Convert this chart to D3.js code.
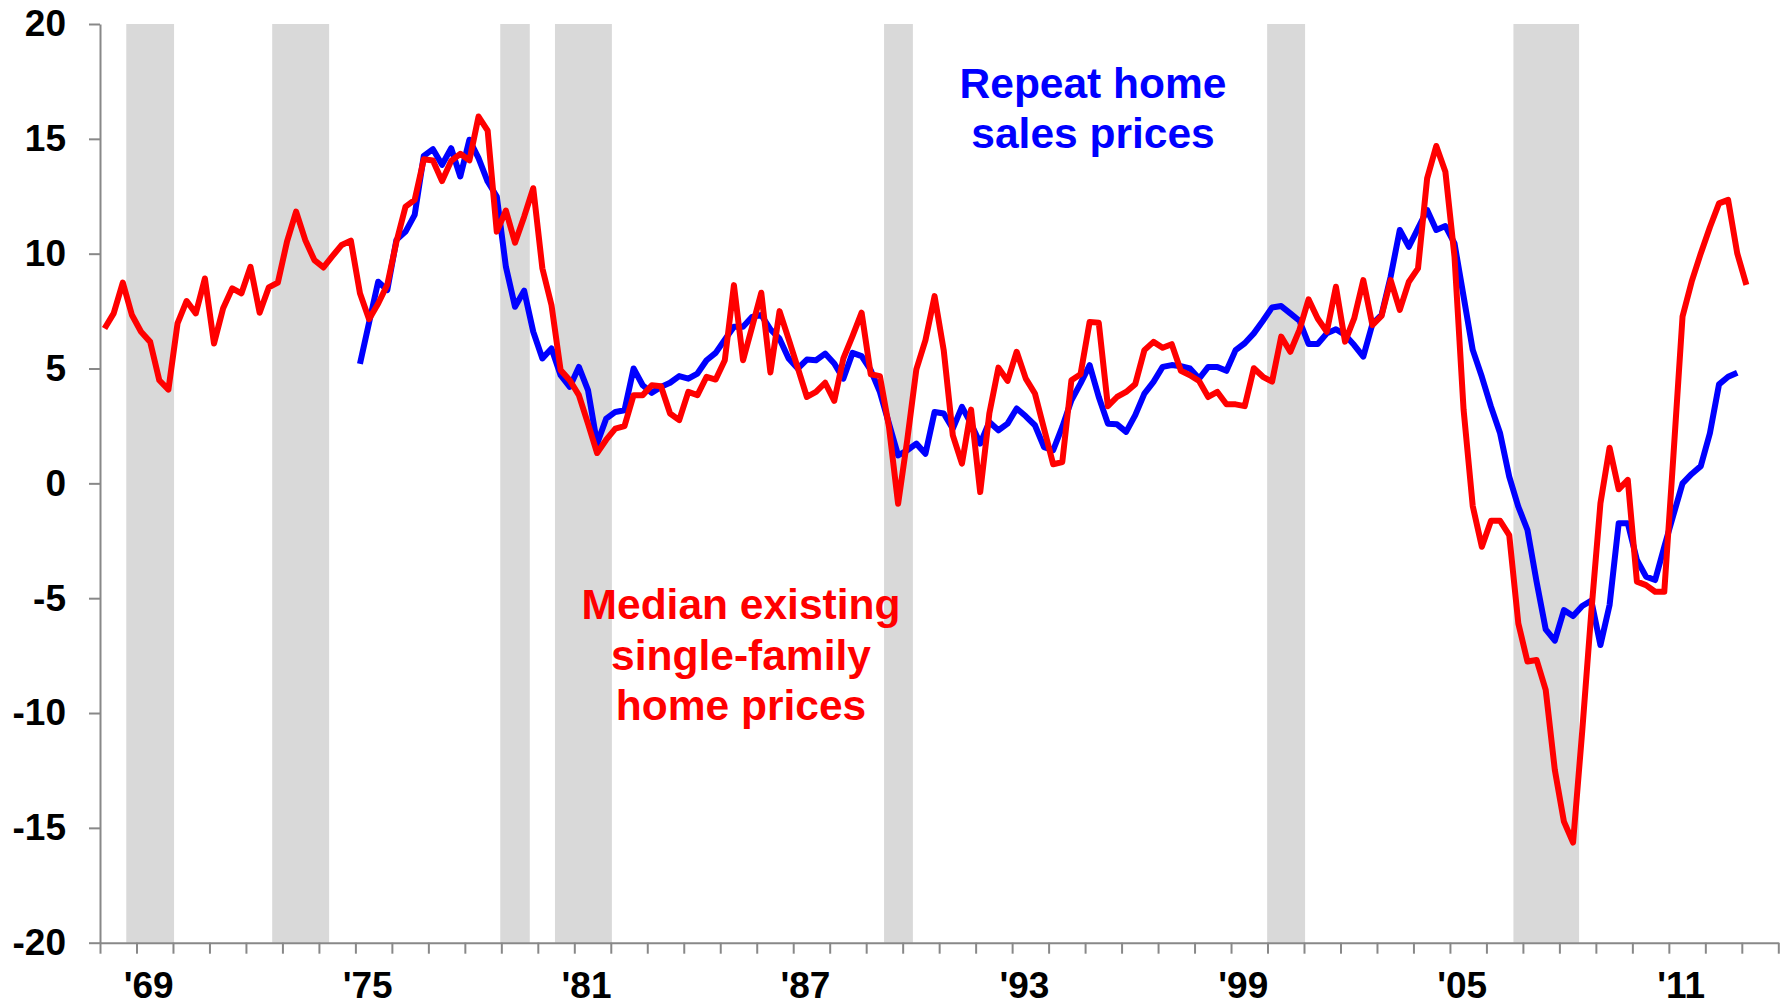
<!DOCTYPE html>
<html>
<head>
<meta charset="utf-8">
<script src="https://cdn.jsdelivr.net/npm/d3@7"></script>
<style>
  body { margin: 0; background: #fff; }
  svg { display: block; font-family: "Liberation Sans", Arial, sans-serif; font-weight: bold; }
</style>
</head>
<body>
<svg width="1780" height="1005"></svg>
<script>

// dados trimestrais, variacao anual em %
const inicio_mediana = 1968; // 1o trimestre de 1968
const mediana_existentes = [
    6.74, 7.40, 8.74, 7.33, 6.60, 6.16, 4.49, 4.08,
    6.96, 7.94, 7.40, 8.92, 6.09, 7.62, 8.49, 8.27,
    9.43, 7.43, 8.53, 8.74, 10.52, 11.83, 10.60, 9.72,
    9.40, 9.90, 10.38, 10.57, 8.28, 7.15, 7.83, 8.65,
    10.52, 12.05, 12.34, 14.11, 14.06, 13.16, 14.04, 14.35,
    14.06, 15.97, 15.36, 10.96, 11.88, 10.48, 11.61, 12.85,
    9.36, 7.76, 4.93, 4.49, 3.84, 2.60, 1.32, 1.90,
    2.38, 2.49, 3.84, 3.84, 4.27, 4.23, 3.04, 2.75,
    3.98, 3.84, 4.64, 4.52, 5.36, 8.63, 5.36, 6.82,
    8.30, 4.83, 7.50, 6.28, 5.03, 3.76, 3.98, 4.38,
    3.59, 5.44, 6.41, 7.43, 4.75, 4.67, 2.46, -0.89,
    1.88, 4.96, 6.24, 8.15, 5.80, 2.09, 0.86, 3.21,
    -0.38, 3.04, 5.04, 4.46, 5.73, 4.56, 3.91, 2.38,
    0.83, 0.93, 4.49, 4.75, 7.03, 6.99, 3.36, 3.76,
    3.98, 4.32, 5.80, 6.16, 5.90, 6.06, 4.90, 4.71,
    4.46, 3.76, 3.98, 3.44, 3.44, 3.36, 5.01, 4.64,
    4.43, 6.39, 5.73, 6.68, 8.01, 7.18, 6.60, 8.56,
    6.17, 7.18, 8.85, 6.89, 7.29, 8.85, 7.55, 8.78,
    9.36, 13.28, 14.69, 13.57, 9.87, 3.19, -0.99, -2.76,
    -1.63, -1.63, -2.25, -6.10, -7.76, -7.69, -8.99, -12.48,
    -14.73, -15.64, -10.8, -5.6, -0.87, 1.55, -0.26, 0.15,
    -4.28, -4.43, -4.72, -4.72, 1.2, 7.26, 8.78, 10.01,
    11.15, 12.19, 12.34, 10.01, 8.64
];

const inicio_repetidas = 1975; // 1o trimestre de 1975
const vendas_repetidas = [
    5.2, 7.0, 8.78, 8.42, 10.6, 10.96, 11.69, 14.26,
    14.55, 13.87, 14.59, 13.36, 14.96, 14.16, 13.14, 12.49,
    9.43, 7.69, 8.39, 6.60, 5.44, 5.87, 4.71, 4.20,
    5.07, 4.06, 1.73, 2.82, 3.11, 3.18, 5.0, 4.27,
    3.94, 4.20, 4.38, 4.67, 4.56, 4.78, 5.36, 5.68,
    6.26, 6.82, 6.82, 7.25, 7.33, 6.70, 6.30, 5.44,
    5.0, 5.39, 5.36, 5.65, 5.22, 4.56, 5.68, 5.54,
    4.93, 3.98, 2.60, 1.22, 1.44, 1.73, 1.29, 3.11,
    3.04, 2.38, 3.33, 2.60, 1.73, 2.67, 2.31, 2.60,
    3.26, 2.92, 2.53, 1.58, 1.44, 2.46, 3.62, 4.35,
    5.15, 3.76, 2.60, 2.57, 2.24, 2.97, 3.91, 4.42,
    5.07, 5.15, 5.10, 5.0, 4.56, 5.07, 5.07, 4.90,
    5.80, 6.1, 6.53, 7.08, 7.66, 7.72, 7.40, 7.08,
    6.07, 6.07, 6.53, 6.71, 6.46, 6.02, 5.52, 6.94,
    7.33, 9.0, 11.03, 10.30, 11.10, 11.90, 11.03, 11.20,
    10.45, 8.13, 5.81, 4.64, 3.34, 2.18, 0.29, -1.02,
    -2.03, -4.28, -6.36, -6.85, -5.52, -5.78, -5.34, -5.11,
    -7.04, -5.30, -1.74, -1.74, -3.34, -4.06, -4.21, -2.76,
    -1.38, 0, 0.41, 0.75, 2.18, 4.31, 4.64, 4.82
];

// faixas de recessao (em anos do eixo)
const recessoes = [
    [1968.72, 1970.03],
    [1972.72, 1974.28],
    [1978.97, 1979.78],
    [1980.47, 1982.03],
    [1989.49, 1990.28],
    [1999.99, 2001.03],
    [2006.74, 2008.54]
];

const ticks_y = [-20, -15, -10, -5, 0, 5, 10, 15, 20];
const anos_rotulos = [1969, 1975, 1981, 1987, 1993, 1999, 2005, 2011];
const rotulos_x = ["'69", "'75", "'81", "'87", "'93", "'99", "'05", "'11"];

const vis = {

    refs : {
        svg : "svg"
    },

    sels : {
        svg : null
    },

    params : {

        dominio_x : [1968, 2014],
        dominio_y : [-20, 20],

        margens : {
            esquerda : 100,
            direita : 1778.3,
            topo : 24,
            base : 942.7
        },

        cores : {
            mediana : "#ff0000",
            repetidas : "#0000ff",
            recessao : "#d9d9d9",
            eixo : "#888888"
        },

        fonte_eixo : 37,
        fonte_rotulo : 42.5,
        espessura : 6

    },

    scales : {
        x : null,
        y : null
    },

    utils : {

        cria_escalas : function() {

            const m = vis.params.margens;

            vis.scales.x = d3.scaleLinear()
              .domain(vis.params.dominio_x)
              .range([m.esquerda, m.direita]);

            vis.scales.y = d3.scaleLinear()
              .domain(vis.params.dominio_y)
              .range([m.base, m.topo]);

        },

        // ponto no meio do trimestre
        x_trimestre : function(inicio, i) {

            return vis.scales.x(inicio + i * 0.25 + 0.125);

        }

    },

    render : {

        recessoes : function() {

            const x = vis.scales.x;
            const m = vis.params.margens;

            vis.sels.svg.append("g")
              .selectAll("rect.recessao")
              .data(recessoes)
              .join("rect")
              .classed("recessao", true)
              .attr("x", d => x(d[0]))
              .attr("width", d => x(d[1]) - x(d[0]))
              .attr("y", m.topo)
              .attr("height", m.base - m.topo)
              .attr("fill", vis.params.cores.recessao);

        },

        eixos : function() {

            const m = vis.params.margens;
            const cor = vis.params.cores.eixo;

            // hifen simples no sinal negativo, como no original
            const eixo_y = vis.sels.svg.append("g")
              .attr("transform", `translate(${m.esquerda},0)`)
              .call(d3.axisLeft(vis.scales.y)
                .tickValues(ticks_y)
                .tickFormat(d => String(d))
                .tickSize(11)
                .tickSizeOuter(0)
                .tickPadding(23));

            const anos = d3.range(vis.params.dominio_x[0], vis.params.dominio_x[1] + 1);

            const eixo_x = vis.sels.svg.append("g")
              .attr("transform", `translate(0,${m.base})`)
              .call(d3.axisBottom(vis.scales.x)
                .tickValues(anos)
                .tickSize(11)
                .tickSizeOuter(0)
                .tickFormat(""));

            [eixo_y, eixo_x].forEach(eixo => {

                eixo.attr("color", cor);
                eixo.selectAll("path, line").attr("stroke-width", 2);

            })

            eixo_y.selectAll("text")
              .attr("fill", "#000")
              .attr("font-size", vis.params.fonte_eixo)
              .attr("font-family", "Liberation Sans, Arial, sans-serif")
              .attr("font-weight", "bold");

            // rotulos dos anos, centrados no intervalo do ano
            vis.sels.svg.append("g")
              .selectAll("text.ano")
              .data(anos_rotulos)
              .join("text")
              .classed("ano", true)
              .attr("x", d => vis.scales.x(d + 0.5) - 6)
              .attr("y", 998)
              .attr("text-anchor", "middle")
              .attr("font-size", vis.params.fonte_eixo)
              .attr("fill", "#000")
              .text((d, i) => rotulos_x[i]);

        },

        linhas : function() {

            const y = vis.scales.y;

            const series = [
                { valores : vendas_repetidas, inicio : inicio_repetidas, cor : vis.params.cores.repetidas },
                { valores : mediana_existentes, inicio : inicio_mediana, cor : vis.params.cores.mediana }
            ];

            series.forEach(serie => {

                const linha = d3.line()
                  .x((d, i) => vis.utils.x_trimestre(serie.inicio, i))
                  .y(d => y(d));

                vis.sels.svg.append("path")
                  .datum(serie.valores)
                  .attr("d", linha)
                  .attr("fill", "none")
                  .attr("stroke", serie.cor)
                  .attr("stroke-width", vis.params.espessura)
                  .attr("stroke-linejoin", "round");

            })

        },

        rotulos : function() {

            const rotulos = [
                { linhas : ["Repeat home", "sales prices"], x : 1093, y : 98, cor : vis.params.cores.repetidas, passo : 50 },
                { linhas : ["Median existing", "single-family", "home prices"], x : 741, y : 619, cor : vis.params.cores.mediana, passo : 50.5 }
            ];

            rotulos.forEach(r => {

                vis.sels.svg.append("text")
                  .attr("text-anchor", "middle")
                  .attr("font-size", vis.params.fonte_rotulo)
                  .attr("fill", r.cor)
                  .selectAll("tspan")
                  .data(r.linhas)
                  .join("tspan")
                  .attr("x", r.x)
                  .attr("y", (d, i) => r.y + i * r.passo)
                  .text(d => d);

            })

        }

    },

    control : {

        initialize_selections : function() {

            const refs = Object.keys(vis.refs);

            refs.forEach(referencia => {

                vis.sels[referencia] = d3.select(vis.refs[referencia]);

            })

        },

        init : function() {

            vis.control.initialize_selections();
            vis.utils.cria_escalas();
            vis.render.recessoes();
            vis.render.eixos();
            vis.render.linhas();
            vis.render.rotulos();

        }

    }

}

vis.control.init();
</script>
</body>
</html>
